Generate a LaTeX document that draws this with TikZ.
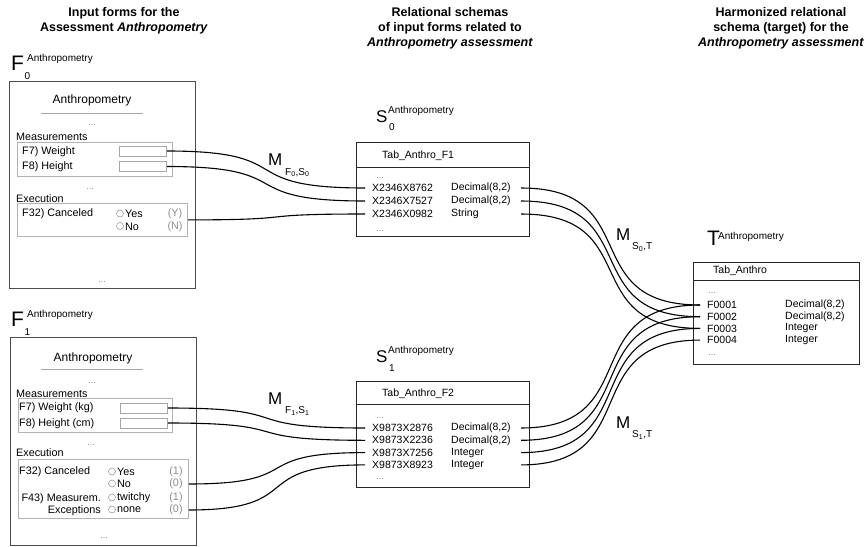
\documentclass[tikz,border=0pt]{standalone}
\usepackage{fontspec}
\setmainfont{Liberation Sans}
\usetikzlibrary{positioning}

\begin{document}
\begin{tikzpicture}[x=1pt, y=-1pt,
    every node/.style={inner sep=0pt, font=\fontsize{10.8}{12}\selectfont},
    coltitle/.style={align=center, font=\bfseries\fontsize{12.5}{15}\selectfont},
    heading/.style={font=\fontsize{12}{14}\selectfont},
    formbox/.style={draw=black!70, line width=1pt},
    grpbox/.style={draw=black!30, line width=0.8pt},
    field/.style={draw=black!35, line width=0.7pt, minimum width=47, minimum height=10},
    radio/.style={draw=black!45, line width=0.5pt, circle, minimum size=7},
    valtxt/.style={text=black!45},
    elli/.style={text=black!60, font=\fontsize{8}{8}\selectfont},
    tabline/.style={draw=black!85, line width=0.9pt},
    tabbox/.style={tabline, anchor=north west},
    rowtxt/.style={anchor=west, font=\fontsize{10.5}{12}\selectfont},
    biglet/.style={anchor=base west, font=\fontsize{21}{21}\selectfont},
    smallet/.style={anchor=base west, font=\fontsize{17}{17}\selectfont},
    suplab/.style={anchor=base west, font=\fontsize{10}{10}\selectfont},
    mlet/.style={anchor=base west, font=\fontsize{17}{17}\selectfont},
    msub/.style={anchor=base west, font=\fontsize{10}{10}\selectfont},
    conn/.style={line width=1.1pt, to path={.. controls +(#1,0) and +(-#1,0) .. (\tikztotarget)}}]
    \useasboundingbox (0,0) rectangle (867,546);

    % column titles
    \node[coltitle] (ttlF) at (124,20.5) {Input forms for the\\Assessment \textit{Anthropometry}};
    \node[coltitle] (ttlS) at (450,28) {Relational schemas\\of input forms related to\\\textit{Anthropometry assessment}};
    \node[coltitle] (ttlT) at (781,28) {Harmonized relational\\schema (target) for the\\\textit{Anthropometry assessment}};

    % form F0
    \node[biglet] (f0let) at (11,70) {F};
    \node[suplab] (f0sup) at (27,61.5) {Anthropometry};
    \node[suplab] (f0sub) at (24.5,79) {0};
    \draw[formbox] (9,81) rectangle (195,288);
    \node[heading] (f0head) at (92,100) {Anthropometry};
    \draw[black!35, line width=0.7pt] (41,113) -- (143,113);
    \node[elli] (f0e1) at (92,125) {\dots};
    \node[anchor=west] (f0meas) at (16,137) {Measurements};
    \draw[grpbox] (17,142) rectangle (172,176);
    \node[anchor=west] (f0q7) at (22,152) {F7) Weight};
    \node[field] (f0w) at (143,151) {};
    \node[anchor=west] (f0q8) at (22,167) {F8) Height};
    \node[field] (f0h) at (143,166.5) {};
    \node[elli] (f0e2) at (90,189) {\dots};
    \node[anchor=west] (f0exec) at (16,199) {Execution};
    \node[grpbox, anchor=north west, minimum width=170, minimum height=33] (f0ex) at (17,203) {};
    \node[anchor=west] (f0q32) at (22,214) {F32) Canceled};
    \foreach \lab/\val/\yy [count=\i] in {Yes/Y/214, No/N/226.5}{
        \node[radio] (f0r\i) at (120,\yy-0.5) {};
        \node[anchor=west] (f0o\i) at (125,\yy) {\lab};
        \node[valtxt] (f0v\i) at (175,\yy) {(\val)};
    }
    \node[elli] (f0e3) at (102,282) {\dots};

    % form F1
    \node[biglet] (f1let) at (11,326) {F};
    \node[suplab] (f1sup) at (27,317.5) {Anthropometry};
    \node[suplab] (f1sub) at (24.5,335) {1};
    \draw[formbox] (10,337) rectangle (196,545);
    \node[heading] (f1head) at (93,358) {Anthropometry};
    \draw[black!35, line width=0.7pt] (41,369) -- (143,369);
    \node[elli] (f1e1) at (92,383) {\dots};
    \node[anchor=west] (f1meas) at (16,394) {Measurements};
    \draw[grpbox] (18,398) rectangle (172,432);
    \node[anchor=west] (f1q7) at (19,408) {F7) Weight (kg)};
    \node[field] (f1w) at (144,408) {};
    \node[anchor=west] (f1q8) at (19,424) {F8) Height (cm)};
    \node[field] (f1h) at (144,423) {};
    \node[elli] (f1e2) at (91,445) {\dots};
    \node[anchor=west] (f1exec) at (16,453) {Execution};
    \node[grpbox, anchor=north west, minimum width=170, minimum height=59] (f1ex) at (18,459) {};
    \node[anchor=west] (f1q32) at (19,472) {F32) Canceled};
    \node[anchor=east, align=right] (f1q43) at (101,505) {F43) Measurem.\\Exceptions};
    \foreach \lab/\val/\yy [count=\i] in {Yes/1/472, No/0/484, twitchy/1/498, none/0/510}{
        \node[radio] (f1r\i) at (112,\yy-0.5) {};
        \node[anchor=west] (f1o\i) at (117,\yy) {\lab};
        \node[valtxt] (f1v\i) at (176,\yy) {(\val)};
    }
    \node[elli] (f1e3) at (104,538) {\dots};

    % schema S0
    \node[smallet] (s0let) at (376,122) {S};
    \node[suplab] (s0sup) at (388,113) {Anthropometry};
    \node[suplab] (s0sub) at (389,130) {0};
    \node[tabbox, minimum width=173, minimum height=94] (s0) at (356,142) {};
    \draw[tabline] ([yshift=-25pt]s0.north west) -- ([yshift=-25pt]s0.north east);
    \node[rowtxt] (s0name) at (382,156) {Tab\_Anthro\_F1};
    \node[elli] (s0e1) at (380,178) {\dots};
    \foreach \nm/\ty [count=\i] in {X2346X8762/{Decimal(8,2)}, X2346X7527/{Decimal(8,2)}, X2346X0982/String}{
        \node[rowtxt] (s0n\i) at (372,{175+13*\i}) {\nm};
        \node[rowtxt] (s0t\i) at (451,{175+13*\i}) {\ty};
        \coordinate (s0in\i) at (365,{175+13*\i});
        \coordinate (s0out\i) at (521,{175+13*\i});
    }
    \node[elli] (s0e2) at (380,231) {\dots};

    % schema S1
    \node[smallet] (s1let) at (376,362) {S};
    \node[suplab] (s1sup) at (388,353) {Anthropometry};
    \node[suplab] (s1sub) at (389,371) {1};
    \node[tabbox, minimum width=173, minimum height=106] (s1) at (356,381) {};
    \draw[tabline] ([yshift=-23pt]s1.north west) -- ([yshift=-23pt]s1.north east);
    \node[rowtxt] (s1name) at (382,394) {Tab\_Anthro\_F2};
    \node[elli] (s1e1) at (380,418) {\dots};
    \foreach \nm/\ty [count=\i] in {X9873X2876/{Decimal(8,2)}, X9873X2236/{Decimal(8,2)}, X9873X7256/Integer, X9873X8923/Integer}{
        \node[rowtxt] (s1n\i) at (372,{415.7+12.3*\i}) {\nm};
        \node[rowtxt] (s1t\i) at (451,{415.7+12.3*\i}) {\ty};
        \coordinate (s1in\i) at (365,{415.7+12.3*\i});
        \coordinate (s1out\i) at (521,{415.7+12.3*\i});
    }
    \node[elli] (s1e2) at (380,479) {\dots};

    % target T
    \node[biglet] (tlet) at (707,245) {T};
    \node[suplab] (tsup) at (718,239) {Anthropometry};
    \node[tabbox, minimum width=166, minimum height=102] (tgt) at (693,262) {};
    \draw[tabline] ([yshift=-18pt]tgt.north west) -- ([yshift=-18pt]tgt.north east);
    \node[rowtxt] (tname) at (713,271) {Tab\_Anthro};
    \node[elli] (te1) at (712,293) {\dots};
    \foreach \nm/\ty [count=\i] in {F0001/{Decimal(8,2)}, F0002/{Decimal(8,2)}, F0003/Integer, F0004/Integer}{
        \node[rowtxt] (tn\i) at (707,{293.3+11.7*\i}) {\nm};
        \node[rowtxt] (tt\i) at (785,{293.3+11.7*\i}) {\ty};
        \coordinate (tin\i) at (700,{293.3+11.7*\i});
    }
    \node[elli] (te2) at (712,355) {\dots};

    % mapping labels
    \node[mlet] (mfs0) at (268,165) {M};
    \node[msub] (mfs0s) at (285,175) {F\textsubscript{0},S\textsubscript{0}};
    \node[mlet] (mfs1) at (268,404) {M};
    \node[msub] (mfs1s) at (285,413.5) {F\textsubscript{1},S\textsubscript{1}};
    \node[mlet] (mst0) at (616,240) {M};
    \node[msub] (mst0s) at (632,249.5) {S\textsubscript{0},T};
    \node[mlet] (mst1) at (616,428) {M};
    \node[msub] (mst1s) at (632,437.5) {S\textsubscript{1},T};

    % mappings
    \draw[conn=135] (f0w.east) to (s0in1);
    \draw[conn=135] (f0h.east) to (s0in2);
    \draw[conn=120] (f0ex.east) to (s0in3);
    \draw[conn=135] (f1w.east) to (s1in1);
    \draw[conn=135] (f1h.east) to (s1in2);
    \draw[conn=120] (f1ex.east |- f1v2) to (s1in3);
    \draw[conn=120] (f1ex.east |- f1v4) to (s1in4);
    \foreach \i in {1,2,3}
        \draw[conn=125] (s0out\i) to (tin\i);
    \foreach \i in {1,...,4}
        \draw[conn=125] (s1out\i) to (tin\i);
\end{tikzpicture}
\end{document}
